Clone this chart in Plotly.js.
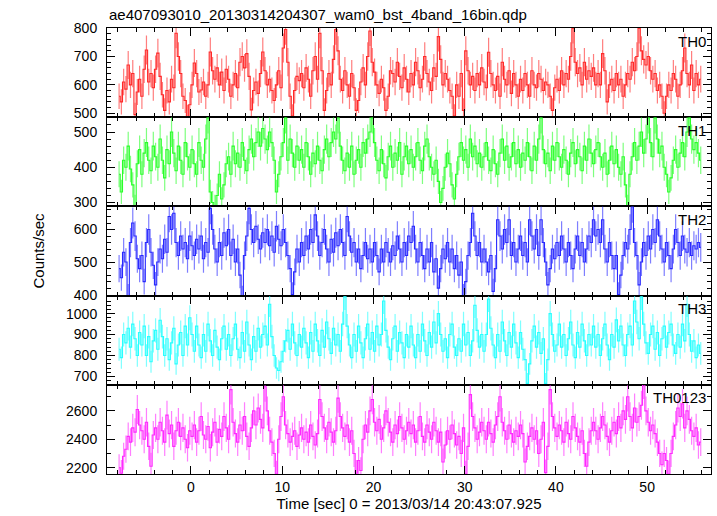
<!DOCTYPE html>
<html>
<head>
<meta charset="utf-8">
<script src="https://cdn.plot.ly/plotly-3.0.1.min.js"></script>
<style>html,body{margin:0;padding:0;background:#fff}#chart{width:717px;height:516px}</style>
</head>
<body>
<div id="chart"></div>
<script>
// Light curve bins (0.25 s each, starting at t = -8 s)
const binSize = 0.25;
const tStart = -8;
const panelNames = ["TH0", "TH1", "TH2", "TH3", "TH0123"];

const th0 = [
 560,540,610,585,670,600,640,495,575,620,560,655,723,610,640,590,
 655,712,630,565,510,580,540,620,590,782,700,640,560,545,488,530,
 600,677,640,575,582,610,560,600,716,650,620,660,600,645,580,655,
 620,560,600,640,590,680,700,660,710,630,512,580,610,570,640,716,
 650,600,620,580,545,600,650,590,730,795,680,560,490,580,630,615,
 640,590,660,620,560,650,700,620,782,650,510,580,640,600,690,795,
 720,620,580,650,600,560,640,590,510,545,610,660,600,700,790,680,
 645,600,570,620,590,510,560,650,640,610,680,630,590,660,620,575,
 640,600,680,650,590,620,700,640,610,580,660,630,770,690,600,640,
 620,580,560,490,600,560,640,510,720,650,600,630,580,640,600,660,
 610,590,715,640,600,580,630,560,680,620,600,650,570,640,600,560,
 620,580,640,600,560,650,600,590,640,620,580,610,600,560,510,590,
 620,580,650,600,640,620,700,800,680,640,660,600,680,620,650,630,
 660,600,640,600,710,650,540,600,620,580,640,600,620,560,600,640,
 620,680,650,700,800,720,690,670,700,650,620,640,580,600,560,500,
 560,600,580,640,620,560,600,650,730,640,600,670,580,640,600,620
];
const th1 = [
 380,330,420,400,460,395,350,290,410,450,380,440,470,420,390,460,
 430,400,480,420,370,450,410,500,440,390,460,420,380,470,430,400,
 450,410,380,470,420,400,480,540,330,300,290,320,380,310,350,410,
 430,380,460,410,440,400,470,420,390,450,480,430,470,500,460,510,
 480,450,500,470,420,330,380,430,470,540,420,480,440,400,460,420,
 450,400,470,430,380,440,410,460,420,390,450,480,430,470,500,480,
 540,460,420,390,440,400,460,380,420,450,400,470,440,480,500,540,
 470,420,390,450,410,370,430,460,400,440,420,470,380,430,460,410,
 450,400,430,470,420,390,460,480,430,400,380,420,360,300,340,400,
 440,410,350,310,380,430,470,420,450,400,480,430,460,410,440,400,
 430,470,420,390,450,410,380,440,480,420,460,400,430,470,410,450,
 400,440,420,470,430,390,460,420,480,540,450,410,440,390,460,420,
 470,430,400,450,420,380,440,470,410,450,430,390,460,420,480,440,
 410,450,470,430,400,440,380,420,460,410,450,400,380,430,350,290,
 380,430,470,420,460,500,440,480,540,470,430,540,480,440,460,400,
 380,330,370,420,450,400,440,470,430,500,540,480,450,470,440,420
];
const th2 = [
 480,452,530,500,395,560,620,580,510,480,520,440,560,600,530,490,
 430,500,540,510,570,530,640,600,650,560,520,580,540,560,510,580,
 550,520,570,540,580,510,560,530,665,600,540,500,560,520,590,550,
 600,520,570,500,540,460,390,520,580,665,600,560,610,570,540,590,
 560,600,550,580,530,610,570,550,600,560,520,480,400,470,540,500,
 560,520,580,540,600,560,645,580,520,560,600,540,500,570,530,590,
 550,600,560,520,640,580,530,560,500,540,480,520,560,510,540,500,
 560,520,470,540,500,560,530,500,550,520,580,540,500,560,520,580,
 560,610,540,500,560,520,480,540,500,560,470,510,420,480,540,510,
 560,500,540,480,520,460,500,395,440,520,560,650,580,520,560,500,
 540,500,470,520,410,480,630,580,540,600,560,630,520,560,500,540,
 580,520,560,500,630,580,540,600,520,630,560,500,430,480,540,510,
 560,520,580,540,500,560,520,480,540,580,520,560,500,540,580,560,
 630,580,600,560,630,540,500,560,520,480,520,400,460,520,560,540,
 600,670,560,520,430,500,560,520,580,540,600,560,630,580,540,500,
 560,520,480,540,600,560,520,580,540,530,560,520,550,540,560,545
];
const th3 = [
 830,790,900,860,930,840,950,880,800,910,850,940,800,890,770,870,
 920,830,968,890,800,880,780,860,930,760,850,910,800,940,850,980,
 900,820,940,850,790,900,820,950,870,800,920,840,780,880,940,830,
 900,800,880,950,830,790,910,820,960,850,780,890,820,930,840,900,
 940,850,1045,890,800,740,728,770,820,870,920,830,950,860,800,900,
 840,930,860,790,910,820,950,870,800,920,840,960,880,810,930,850,
 900,820,950,1080,940,850,790,900,820,940,860,790,880,950,830,910,
 820,940,850,900,1060,920,840,780,880,940,820,910,860,790,900,840,
 940,850,790,900,820,950,870,800,910,840,960,860,1000,900,820,880,
 790,900,950,840,800,880,820,950,850,910,800,870,1040,920,840,900,
 820,900,1070,930,850,790,900,820,960,870,800,910,840,950,860,790,
 910,830,780,667,760,870,940,840,910,810,880,667,780,1000,900,820,
 850,950,840,900,800,880,960,850,790,910,840,950,870,800,900,850,
 940,840,900,800,880,950,850,780,900,840,970,870,940,850,800,900,
 940,850,1060,960,880,1080,950,860,810,900,940,830,910,800,880,940,
 840,910,950,850,810,900,840,950,870,1045,900,820,870,790,850,810
];
const th0123 = [
 2200,2160,2280,2330,2420,2380,2480,2450,2610,2500,2460,2400,2520,2350,2210,2430,
 2480,2400,2520,2460,2380,2570,2440,2500,2350,2460,2520,2420,2480,2400,2340,2460,
 2420,2500,2380,2460,2560,2430,2400,2490,2340,2450,2520,2380,2470,2420,2560,2480,
 2400,2750,2520,2440,2380,2500,2460,2560,2420,2350,2480,2600,2500,2620,2540,2480,
 2770,2600,2460,2380,2300,2155,2400,2560,2700,2500,2440,2380,2420,2460,2350,2430,
 2480,2400,2450,2380,2500,2420,2360,2440,2680,2560,2480,2400,2520,2450,2380,2460,
 2690,2560,2480,2420,2500,2380,2460,2300,2160,2250,2180,2400,2500,2450,2600,2680,
 2520,2460,2540,2400,2480,2600,2520,2450,2380,2500,2440,2560,2480,2400,2460,2520,
 2440,2500,2380,2460,2560,2420,2380,2500,2450,2400,2520,2460,2380,2450,2240,2360,
 2460,2400,2500,2440,2360,2420,2300,2480,2155,2350,2715,2560,2480,2400,2450,2520,
 2460,2400,2520,2440,2380,2500,2560,2700,2520,2460,2400,2500,2440,2380,2460,2420,
 2500,2440,2240,2350,2420,2480,2400,2460,2300,2400,2520,2165,2350,2750,2560,2480,
 2420,2500,2460,2380,2520,2440,2400,2560,2480,2420,2380,2460,2300,2210,2380,2460,
 2520,2460,2400,2480,2560,2500,2420,2380,2460,2520,2440,2560,2480,2600,2540,2700,
 2560,2480,2620,2520,2560,2640,2790,2600,2520,2460,2500,2440,2380,2300,2220,2300,
 2250,2155,2300,2420,2500,2620,2560,2650,2480,2600,2540,2460,2420,2480,2360,2380
];
const yTickVals = [[500,600,700,800],[300,400,500],[400,500,600],[700,800,900,1000],[2200,2400,2600]];

// ---- styling ----
const series = [th0, th1, th2, th3, th0123];
const colors = ["255,40,40", "40,255,40", "40,40,255", "40,255,255", "255,40,255"];
const yRanges = [[486, 800.5], [289, 542], [397, 671], [660, 1086], [2155, 2784]];
const minorDt = [20, 20, 20, 20, 100];
const errScale = [0.95, 0.95, 0.95, 0.95, 1.0];
const font = "Liberation Sans, Arial, sans-serif";

const time = th0.map((_, i) => tStart + binSize * (i + 0.5));

const traces = [];
const layout = {
  width: 717, height: 516,
  margin: {l: 107, r: 6, t: 28, b: 42},
  paper_bgcolor: "#fff", plot_bgcolor: "#fff",
  showlegend: false,
  font: {family: font, size: 14, color: "#000"},
  annotations: [],
};
const n = series.length;
const gap = 1 / n;
series.forEach((vals, k) => {
  const sfx = k === 0 ? "" : String(k + 1);
  const err = vals.map(v => Math.sqrt(v / binSize) * errScale[k]);
  traces.push({
    x: time, y: vals, xaxis: "x" + sfx, yaxis: "y" + sfx,
    type: "scatter", mode: "lines",
    line: {shape: "hvh", color: "rgb(" + colors[k] + ")", width: 1.1},
    error_y: {type: "data", array: err, visible: true, thickness: 1.2, width: 0, color: "rgba(" + colors[k] + ",0.6)"},
    hoverinfo: "skip"
  });
  const top = 1 - k * gap, bot = 1 - (k + 1) * gap;
  layout["xaxis" + sfx] = {
    domain: [0, 1], anchor: "y" + sfx, range: [-9.2, 57.0],
    matches: k === 0 ? undefined : "x",
    showgrid: false, zeroline: false, showline: true, linecolor: "#000", linewidth: 1, mirror: "ticks",
    ticks: "inside", ticklen: 8, tickcolor: "#000", dtick: 10, tick0: 0,
    minor: {ticks: "inside", ticklen: 4, dtick: 2, tickcolor: "#000", showgrid: false},
    showticklabels: k === n - 1,
    tickfont: {family: font, size: 14, color: "#000"},
    title: k === n - 1 ? {text: "Time [sec] 0 = 2013/03/14 20:43:07.925", font: {family: font, size: 15, color: "#000"}, standoff: 2} : undefined
  };
  layout["yaxis" + sfx] = {
    domain: [bot, top], anchor: "x" + sfx, range: yRanges[k],
    showgrid: false, zeroline: false, showline: true, linecolor: "#000", linewidth: 1, mirror: "ticks",
    ticks: "inside", ticklen: 8, tickcolor: "#000",
    tickmode: "array", tickvals: yTickVals[k],
    minor: {ticks: "inside", ticklen: 4, dtick: minorDt[k], tickcolor: "#000", showgrid: false},
    tickfont: {family: font, size: 14, color: "#000"},
    ticklabelstandoff: 6
  };
  layout.annotations.push({
    text: panelNames[k], xref: "x" + sfx + " domain", yref: "y" + sfx + " domain",
    x: 0.995, y: 0.97, xanchor: "right", yanchor: "top", showarrow: false,
    font: {family: font, size: 15, color: "#000"}
  });
});
layout.annotations.push({
  text: "ae407093010_20130314204307_wam0_bst_4band_16bin.qdp",
  xref: "paper", yref: "paper", x: 0, y: 1, xanchor: "left", yanchor: "bottom", yshift: 3,
  showarrow: false, font: {family: font, size: 15, color: "#000"}
});
layout.annotations.push({
  text: "Counts/sec", xref: "paper", yref: "paper", x: -0.115, y: 0.5, textangle: -90,
  xanchor: "center", yanchor: "middle", showarrow: false,
  font: {family: font, size: 15, color: "#000"}
});

Plotly.newPlot("chart", traces, layout, {staticPlot: true, displayModeBar: false});
</script>
</body>
</html>
